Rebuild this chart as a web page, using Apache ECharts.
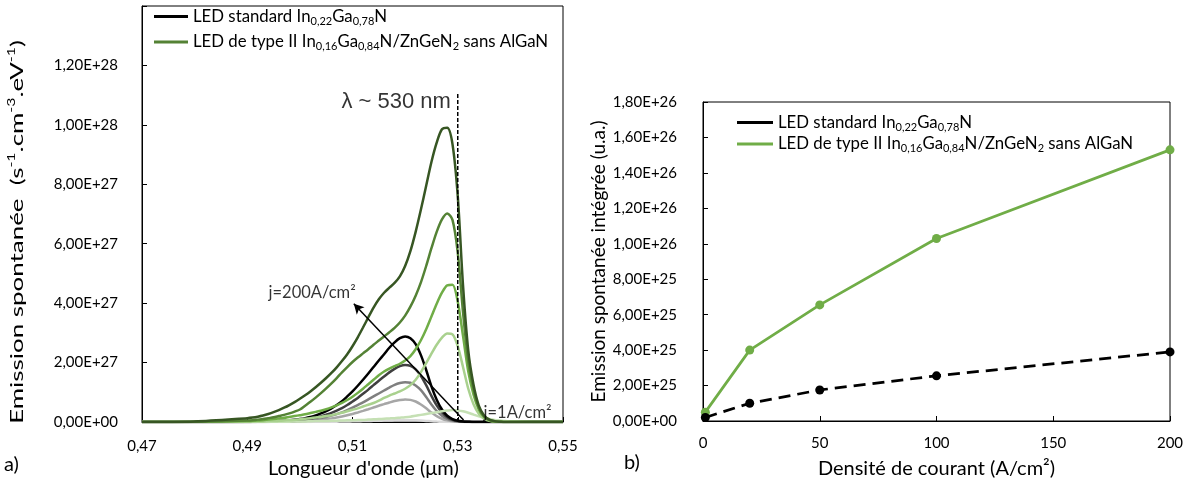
<!DOCTYPE html>
<html><head><meta charset="utf-8">
<script src="https://cdn.jsdelivr.net/npm/echarts@6/dist/echarts.min.js"></script>
<style>html,body{margin:0;padding:0;background:#fff}#c{width:1193px;height:493px}</style>
</head><body><div id="c"></div>
<script>
// ---------- DATA ----------
// (a) spectra: wavelength (µm); spontaneous emission in units of 1e27 s-1.cm-3.eV-1
const wavelengths = [0.470,0.480,
  0.490,0.491,0.492,0.493,0.494,0.495,0.496,0.497,0.498,0.499,
  0.500,0.501,0.502,0.503,0.504,0.505,0.506,0.507,0.508,0.509,
  0.510,0.511,0.512,0.513,0.514,0.515,0.516,0.517,0.518,0.519,
  0.520,0.521,0.522,0.523,0.524,0.525,0.526,0.527,0.528,0.529,
  0.530,0.531,0.532,0.533,0.534,0.535,0.536,0.537,0.538,0.539,
  0.540,0.545,0.550];
const std_j1 = [0,0,
  0,0,0,0,0,0,0,0.001,0.001,0.001,
  0.002,0.003,0.004,0.005,0.006,0.008,0.01,0.012,0.015,0.018,
  0.022,0.026,0.03,0.034,0.038,0.043,0.047,0.051,0.055,0.058,
  0.06,0.059,0.055,0.047,0.037,0.026,0.016,0.009,0.004,0.002,
  0.001,0,0,0,0,0,0,0,0,0,
  0,0,0];
const std_j20 = [0,0,
  0.001,0.002,0.003,0.003,0.004,0.006,0.008,0.011,0.015,0.02,
  0.026,0.034,0.045,0.058,0.077,0.098,0.122,0.15,0.185,0.227,
  0.272,0.322,0.375,0.43,0.488,0.546,0.6,0.655,0.705,0.74,
  0.76,0.745,0.69,0.59,0.46,0.32,0.2,0.11,0.055,0.025,
  0.011,0.004,0,0,0,0,0,0,0,0,
  0,0,0];
const std_j50 = [0,0,
  0.002,0.003,0.005,0.006,0.008,0.01,0.014,0.019,0.025,0.035,
  0.046,0.06,0.079,0.1,0.135,0.17,0.215,0.265,0.325,0.4,
  0.48,0.57,0.66,0.76,0.86,0.96,1.06,1.16,1.25,1.31,
  1.34,1.32,1.23,1.07,0.84,0.59,0.37,0.21,0.105,0.048,
  0.021,0.009,0.003,0,0,0,0,0,0,0,
  0,0,0];
const std_j100 = [0,0,
  0.003,0.005,0.007,0.009,0.012,0.015,0.02,0.027,0.036,0.05,
  0.066,0.087,0.113,0.147,0.19,0.245,0.305,0.38,0.465,0.57,
  0.69,0.81,0.95,1.09,1.24,1.39,1.53,1.67,1.79,1.88,
  1.92,1.89,1.77,1.55,1.24,0.88,0.56,0.32,0.16,0.075,
  0.033,0.014,0.005,0,0,0,0,0,0,0,
  0,0,0];
const std_j200 = [0,0,
  0.005,0.007,0.01,0.013,0.017,0.022,0.03,0.04,0.055,0.075,
  0.1,0.13,0.17,0.22,0.29,0.37,0.46,0.57,0.7,0.86,
  1.03,1.22,1.42,1.63,1.85,2.07,2.28,2.5,2.68,2.82,
  2.88,2.82,2.62,2.25,1.75,1.2,0.75,0.42,0.21,0.1,
  0.045,0.02,0.008,0,0,0,0,0,0,0,
  0,0,0];
const t2_j1 = [0,0,
  0,0,0,0,0.005,0.005,0.01,0.01,0.01,0.015,
  0.02,0.02,0.025,0.03,0.03,0.035,0.04,0.045,0.05,0.055,
  0.06,0.065,0.07,0.08,0.09,0.1,0.11,0.12,0.13,0.145,
  0.16,0.18,0.21,0.24,0.27,0.3,0.33,0.36,0.385,0.4,
  0.39,0.36,0.31,0.25,0.19,0.14,0.1,0.07,0.05,0.03,
  0.02,0,0];
const t2_j20 = [0,0,
  0.01,0.01,0.02,0.02,0.03,0.03,0.04,0.05,0.06,0.07,
  0.09,0.11,0.13,0.15,0.17,0.2,0.23,0.27,0.31,0.36,
  0.41,0.46,0.52,0.58,0.64,0.72,0.81,0.89,0.96,1.03,
  1.12,1.24,1.42,1.68,1.98,2.3,2.6,2.84,2.98,2.95,
  2.55,1.85,1.12,0.6,0.28,0.11,0.04,0.01,0,0,
  0,0,0];
const t2_j50 = [0,0.005,
  0.03,0.04,0.05,0.06,0.08,0.1,0.12,0.14,0.17,0.2,
  0.23,0.26,0.3,0.34,0.38,0.43,0.49,0.56,0.64,0.74,
  0.85,0.98,1.12,1.27,1.42,1.57,1.7,1.8,1.88,1.96,
  2.07,2.22,2.45,2.75,3.12,3.55,3.98,4.35,4.6,4.62,
  4.05,2.9,1.7,0.92,0.42,0.16,0.06,0.02,0.01,0,
  0,0,0];
const t2_j100 = [0,0.01,
  0.05,0.06,0.08,0.1,0.13,0.16,0.2,0.24,0.29,0.35,
  0.42,0.55,0.68,0.82,0.97,1.13,1.3,1.48,1.67,1.85,
  2.02,2.17,2.31,2.45,2.6,2.74,2.88,3.02,3.17,3.35,
  3.58,3.88,4.25,4.7,5.25,5.85,6.4,6.82,7.02,6.8,
  5.7,3.7,2.05,1.1,0.48,0.19,0.07,0.02,0.01,0,
  0,0,0];
const t2_j200 = [0,0.02,
  0.13,0.15,0.18,0.22,0.27,0.33,0.4,0.48,0.57,0.67,
  0.78,0.9,1.03,1.17,1.32,1.48,1.65,1.84,2.05,2.28,
  2.55,2.85,3.18,3.52,3.85,4.13,4.35,4.52,4.68,4.9,
  5.25,5.75,6.4,7.15,7.95,8.75,9.4,9.85,9.9,9.35,
  7.6,4.6,2.4,1.25,0.55,0.22,0.08,0.03,0.01,0,
  0,0,0];
const SPECTRUM_UNIT = 1e27;

// (b) integrated emission vs current density (A/cm²)
const currentDensities = [1, 20, 50, 100, 200];
const stdIntegrated    = [0.2e25, 1.0e25, 1.75e25, 2.55e25, 3.9e25];
const typeIIIntegrated = [0.5e25, 4.0e25, 6.55e25, 10.3e25, 15.3e25];

// tick labels
const leftXTickLabels  = ['0,47','0,49','0,51','0,53','0,55'];
const leftYTickLabels  = ['0,00E+00','2,00E+27','4,00E+27','6,00E+27','8,00E+27','1,00E+28','1,20E+28',''];
const rightXTickLabels = ['0','50','100','150','200'];
const rightYTickLabels = ['0,00E+00','2,00E+25','4,00E+25','6,00E+25','8,00E+25','1,00E+26','1,20E+26','1,40E+26','1,60E+26','1,80E+26'];

// annotations (a)
const lambdaMarker = 0.53, lambdaMarkerTop = 11.1e27;
const arrowFrom = [0.5311, 0.07e27], arrowTo = [0.51025, 3.98e27];
const annotTexts  = ['λ ~ 530 nm', 'j=200A/cm²', 'j=1A/cm²'];
const annotCoords = [[0.5287, 10.76e27], [0.5106, 4.35e27], [0.5349, 0.30e27]];

// ---------- CHART ----------
const FONT = 'Lato, "Noto Sans", sans-serif';
const stdSpectra = [std_j1, std_j20, std_j50, std_j100, std_j200];
const stdColors = ['#D9D9D9','#A6A6A6','#7F7F7F','#404040','#000000'];
const t2Spectra = [t2_j1, t2_j20, t2_j50, t2_j100, t2_j200];
const t2Colors = ['#C5E0B4','#A9D18E','#70AD47','#548235','#375623'];

const legendNames = {
  std: '{n|LED standard In}{s|0,22}{n|Ga}{s|0,78}{n|N}',
  typeII: '{n|LED de type II In}{s|0,16}{n|Ga}{s|0,84}{n|N/ZnGeN}{s|2}{n| sans AlGaN}'
};
const legendRich = {
  n: {fontFamily: FONT, fontSize: 16.8, color: '#000', lineHeight: 20, verticalAlign: 'middle'},
  s: {fontFamily: FONT, fontSize: 11, color: '#000', verticalAlign: 'bottom'}
};

function spectrum(vals, color, name, z) {
  return {
    type: 'line', name, xAxisIndex: 0, yAxisIndex: 0,
    data: wavelengths.map((w, i) => [w, vals[i] * SPECTRUM_UNIT]),
    symbol: 'none', smooth: 0.3,
    lineStyle: {color, width: 2.5}, itemStyle: {color}, z, silent: true
  };
}

const series = [];
stdSpectra.forEach((v, i) => series.push(spectrum(v, stdColors[i], 'std', 2)));
t2Spectra.forEach((v, i) => series.push(spectrum(v, t2Colors[i], 'typeII', 3)));

series.push({
  type: 'line', name: 'marker', xAxisIndex: 0, yAxisIndex: 0,
  data: [[lambdaMarker, 0], [lambdaMarker, lambdaMarkerTop]],
  symbol: 'none', lineStyle: {color: '#000', width: 1.5, type: [4, 2]}, z: 4, silent: true,
  markLine: {
    silent: true, symbol: ['none', 'arrow'], symbolSize: [8, 10],
    lineStyle: {color: '#000', width: 1.5, type: 'solid'}, label: {show: false},
    data: [[{coord: arrowFrom}, {coord: arrowTo}]]
  }
});
series.push({
  type: 'scatter', name: 'annot', xAxisIndex: 0, yAxisIndex: 0, symbolSize: 0, silent: true, z: 6,
  data: annotCoords.map((c, i) => ({
    value: c,
    label: {
      show: true, formatter: annotTexts[i], distance: 0,
      position: i === 2 ? 'right' : 'left',
      fontFamily: i === 0 ? '"Liberation Sans", Arial, sans-serif' : FONT,
      fontSize: i === 0 ? 22 : 16.5, color: '#000'
    }
  }))
});

series.push({
  type: 'line', name: 'typeII', xAxisIndex: 1, yAxisIndex: 1,
  data: currentDensities.map((j, i) => [j, typeIIIntegrated[i]]),
  symbol: 'circle', symbolSize: 9, showAllSymbol: true,
  lineStyle: {color: '#70AD47', width: 2.75}, itemStyle: {color: '#70AD47'}, z: 3
});
series.push({
  type: 'line', name: 'std', xAxisIndex: 1, yAxisIndex: 1,
  data: currentDensities.map((j, i) => [j, stdIntegrated[i]]),
  symbol: 'circle', symbolSize: 9,
  lineStyle: {color: '#000', width: 2.75, type: [12, 7]}, itemStyle: {color: '#000'}, z: 4
});

const axisCommon = {
  axisLine: {show: true, lineStyle: {color: '#000', width: 1}},
  axisTick: {show: true, inside: true, length: 5, lineStyle: {color: '#000'}},
  splitLine: {show: false},
  axisLabel: {fontFamily: FONT, fontSize: 15, color: '#000'},
  nameTextStyle: {fontFamily: FONT, fontSize: 20, color: '#000'}
};

const option = {
  animation: false,
  backgroundColor: '#fff',
  grid: [
    {left: 142, top: 6, width: 421, height: 416, show: true, borderColor: '#000', borderWidth: 1},
    {left: 703, top: 102, width: 467, height: 319, show: true, borderColor: '#000', borderWidth: 1}
  ],
  xAxis: [
    Object.assign({}, axisCommon, {
      type: 'value', gridIndex: 0, min: 0.47, max: 0.55, interval: 0.02,
      name: "Longueur d'onde (μm)", nameLocation: 'middle', nameGap: 35,
      nameTextStyle: {fontFamily: FONT, fontSize: 20, color: '#000', padding: [0, 0, 0, 22]},
      axisLabel: Object.assign({}, axisCommon.axisLabel, {margin: 17, formatter: (v, i) => leftXTickLabels[i]})
    }),
    Object.assign({}, axisCommon, {
      type: 'value', gridIndex: 1, min: 0, max: 200, interval: 50,
      name: 'Densité de courant (A/cm²)', nameLocation: 'middle', nameGap: 38,
      axisLabel: Object.assign({}, axisCommon.axisLabel, {margin: 15, formatter: (v, i) => rightXTickLabels[i]})
    })
  ],
  yAxis: [
    Object.assign({}, axisCommon, {
      type: 'value', gridIndex: 0, min: 0, max: 1.4e28, interval: 2e27,
      axisLabel: Object.assign({}, axisCommon.axisLabel, {margin: 24, formatter: (v, i) => leftYTickLabels[i] || ''})
    }),
    Object.assign({}, axisCommon, {
      type: 'value', gridIndex: 1, min: 0, max: 1.8e26, interval: 2e25,
      name: 'Emission spontanée intégrée (u.a.)', nameLocation: 'middle', nameGap: 83, nameRotate: 90,
      nameTextStyle: {fontFamily: FONT, fontSize: 19, color: '#000'},
      axisLabel: Object.assign({}, axisCommon.axisLabel, {margin: 26, formatter: (v, i) => rightYTickLabels[i]})
    })
  ],
  legend: [
    {
      left: 154, top: 8, orient: 'vertical', itemGap: 7, itemWidth: 34, itemHeight: 3, icon: 'rect',
      selectedMode: false, padding: 0,
      formatter: n => legendNames[n], textStyle: {fontFamily: FONT, fontSize: 16.8, rich: legendRich},
      data: [
        {name: 'std', itemStyle: {color: '#000'}},
        {name: 'typeII', itemStyle: {color: '#548235'}}
      ]
    },
    {
      left: 737, top: 114, orient: 'vertical', itemGap: 3, itemWidth: 36, itemHeight: 3, icon: 'rect',
      selectedMode: false, padding: 0,
      formatter: n => legendNames[n], textStyle: {fontFamily: FONT, fontSize: 16.8, rich: legendRich},
      data: [
        {name: 'std', itemStyle: {color: '#000'}},
        {name: 'typeII', itemStyle: {color: '#70AD47'}}
      ]
    }
  ],
  graphic: [
    {type: 'text', left: 4, top: 455, style: {text: 'a)', fontFamily: FONT, fontSize: 20, fill: '#000'}},
    {type: 'text', left: 624, top: 453, style: {text: 'b)', fontFamily: FONT, fontSize: 20, fill: '#000'}},
    {
      type: 'text', x: 17, y: 232, rotation: Math.PI / 2, scaleX: 1.44, scaleY: 1,
      style: {
        text: '{n|Emission spontanée  (s}{p|-1}{n|.cm}{p|-3}{n|.eV}{p|-1}{n|)}',
        align: 'center', verticalAlign: 'middle',
        rich: {
          n: {fontFamily: FONT, fontSize: 18, fill: '#000', lineHeight: 22},
          p: {fontFamily: FONT, fontSize: 11, fill: '#000', verticalAlign: 'top'}
        }
      }
    }
  ],
  series
};

const chart = echarts.init(document.getElementById('c'), null, {renderer: 'canvas'});
chart.setOption(option);
</script>
</body></html>
